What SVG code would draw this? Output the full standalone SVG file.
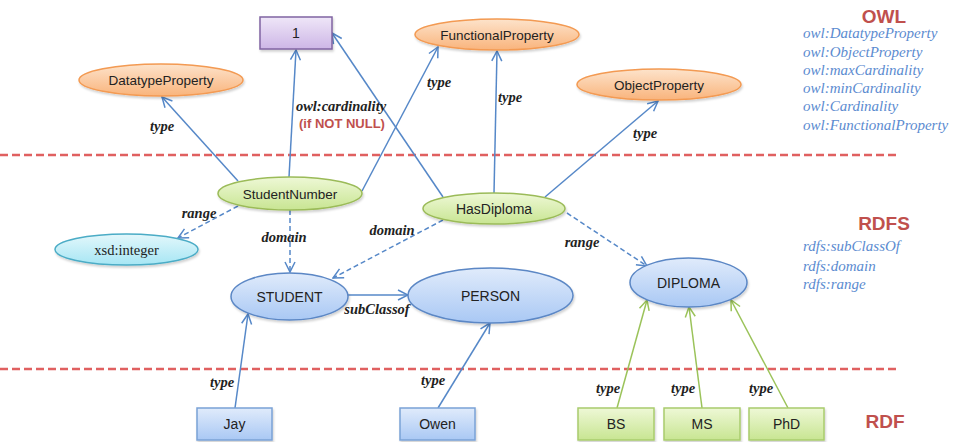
<svg xmlns="http://www.w3.org/2000/svg" width="956" height="442" viewBox="0 0 956 442">
<defs>
<linearGradient id="gOrange" x1="0" y1="0" x2="0" y2="1"><stop offset="0" stop-color="#fde3cb"/><stop offset="1" stop-color="#f9b47c"/></linearGradient>
<linearGradient id="gGreen" x1="0" y1="0" x2="0" y2="1"><stop offset="0" stop-color="#eef8d6"/><stop offset="1" stop-color="#c8e592"/></linearGradient>
<linearGradient id="gBlue" x1="0" y1="0" x2="0" y2="1"><stop offset="0" stop-color="#e0ebfb"/><stop offset="1" stop-color="#a9c8f4"/></linearGradient>
<linearGradient id="gCyan" x1="0" y1="0" x2="0" y2="1"><stop offset="0" stop-color="#e3f7fb"/><stop offset="1" stop-color="#a6e6f4"/></linearGradient>
<linearGradient id="gPurple" x1="0" y1="0" x2="0" y2="1"><stop offset="0" stop-color="#efe6f8"/><stop offset="1" stop-color="#cdb6e6"/></linearGradient>
<filter id="sh" x="-10%" y="-20%" width="125%" height="150%"><feDropShadow dx="1" dy="2" stdDeviation="1.2" flood-color="#000" flood-opacity="0.18"/></filter>
<marker id="aBlue" viewBox="0 0 12 12" refX="11" refY="6" markerWidth="12" markerHeight="12" markerUnits="userSpaceOnUse" orient="auto">
<path d="M1,1 L11,6 L1,11" fill="none" stroke="#5688c8" stroke-width="1.5"/></marker>
<marker id="aGreen" viewBox="0 0 12 12" refX="11" refY="6" markerWidth="12" markerHeight="12" markerUnits="userSpaceOnUse" orient="auto">
<path d="M1,1 L11,6 L1,11" fill="none" stroke="#9bc35a" stroke-width="1.5"/></marker>
</defs>
<style>
.lbl{font-family:"Liberation Sans",Arial,sans-serif;font-size:14px;fill:#222;text-anchor:middle}
.sm{font-size:13.5px}
.ser{font-family:"Liberation Serif","Times New Roman",serif;font-size:14.5px;fill:#222;text-anchor:middle}
.el{font-family:"Liberation Serif","Times New Roman",serif;font-size:14.5px;font-weight:bold;font-style:italic;fill:#222;text-anchor:middle}
.red{font-family:"Liberation Sans",Arial,sans-serif;font-weight:bold;fill:#c0504d}
.lst{font-family:"Liberation Serif","Times New Roman",serif;font-style:italic;font-size:15px;fill:#5b8bd0}
.e{fill:none;stroke:#5688c8;stroke-width:1.5}
.d{stroke-dasharray:5 3}
.eg{fill:none;stroke:#9bc35a;stroke-width:1.5}
.sep{stroke:#e06060;stroke-width:2.5;stroke-dasharray:8 4}
.or{fill:url(#gOrange);stroke:#f39a52;stroke-width:1.5;filter:url(#sh)}
.gr{fill:url(#gGreen);stroke:#9bbb59;stroke-width:1.5;filter:url(#sh)}
.bl{fill:url(#gBlue);stroke:#5b87c5;stroke-width:1.5;filter:url(#sh)}
.cy{fill:url(#gCyan);stroke:#4bacc6;stroke-width:1.5;filter:url(#sh)}
.pu{fill:url(#gPurple);stroke:#8064a2;stroke-width:1.5;filter:url(#sh)}
.bb{fill:url(#gBlue);stroke:#7aa2d6;stroke-width:1.5;filter:url(#sh)}
.gb{fill:url(#gGreen);stroke:#a9cc6c;stroke-width:1.5;filter:url(#sh)}
</style>
<rect width="956" height="442" fill="#fff"/>
<line class="sep" x1="0" y1="155" x2="896" y2="155"/>
<line class="sep" x1="0" y1="369" x2="896" y2="369"/>

<g id="connectors">
<line class="e" x1="238" y1="181" x2="162" y2="97" marker-end="url(#aBlue)"/>
<line class="e" x1="289" y1="177" x2="296" y2="50" marker-end="url(#aBlue)"/>
<line class="e" x1="362" y1="191" x2="438" y2="47" marker-end="url(#aBlue)"/>
<line class="e" x1="443" y1="197" x2="332" y2="33" marker-end="url(#aBlue)"/>
<line class="e" x1="494" y1="193" x2="497" y2="51" marker-end="url(#aBlue)"/>
<line class="e" x1="545" y1="197" x2="658" y2="101" marker-end="url(#aBlue)"/>
<line class="e d" x1="238" y1="206" x2="178" y2="238" marker-end="url(#aBlue)"/>
<line class="e d" x1="290" y1="210" x2="290" y2="272" marker-end="url(#aBlue)"/>
<line class="e d" x1="443" y1="220" x2="333" y2="278" marker-end="url(#aBlue)"/>
<line class="e d" x1="567" y1="213" x2="647" y2="266" marker-end="url(#aBlue)"/>
<line class="e" x1="348" y1="295" x2="408" y2="295" marker-end="url(#aBlue)"/>
<line class="e" x1="235" y1="408" x2="248" y2="314" marker-end="url(#aBlue)"/>
<line class="e" x1="438" y1="408" x2="490" y2="323" marker-end="url(#aBlue)"/>
<line class="eg" x1="617" y1="408" x2="647" y2="300" marker-end="url(#aGreen)"/>
<line class="eg" x1="702" y1="408" x2="689" y2="307" marker-end="url(#aGreen)"/>
<line class="eg" x1="788" y1="408" x2="731" y2="300" marker-end="url(#aGreen)"/>
<text class="el" x="162" y="131">type</text>
<text class="el" x="341" y="111">owl:cardinality</text>
<text class="red" x="342" y="128" font-size="13" text-anchor="middle">(if NOT NULL)</text>
<text class="el" x="439" y="87">type</text>
<text class="el" x="510" y="102">type</text>
<text class="el" x="645" y="138">type</text>
<text class="el" x="199" y="218">range</text>
<text class="el" x="284" y="242">domain</text>
<text class="el" x="392" y="235">domain</text>
<text class="el" x="377" y="314">subClassof</text>
<text class="el" x="582" y="247">range</text>
<text class="el" x="222" y="387">type</text>
<text class="el" x="433" y="385">type</text>
<text class="el" x="608" y="393">type</text>
<text class="el" x="683" y="393">type</text>
<text class="el" x="761" y="393">type</text>
</g>

<g id="n-one"><rect class="pu" x="260" y="17" width="72" height="32"/><text class="lbl" x="296" y="38">1</text></g>
<g id="n-datatypeproperty"><ellipse class="or" cx="161" cy="80" rx="82" ry="16"/><text class="lbl sm" x="161" y="85">DatatypeProperty</text></g>
<g id="n-functionalproperty"><ellipse class="or" cx="497" cy="34.5" rx="82" ry="15.5"/><text class="lbl sm" x="497" y="39.5">FunctionalProperty</text></g>
<g id="n-objectproperty"><ellipse class="or" cx="659" cy="84.5" rx="82" ry="15.5"/><text class="lbl sm" x="659" y="89.5">ObjectProperty</text></g>
<g id="n-studentnumber"><ellipse class="gr" cx="290" cy="193.5" rx="72" ry="16.5"/><text class="lbl sm" x="290" y="198.5">StudentNumber</text></g>
<g id="n-hasdiploma"><ellipse class="gr" cx="494" cy="208.5" rx="71" ry="15.5"/><text class="lbl" x="494" y="213.5">HasDiploma</text></g>
<g id="n-xsdinteger"><ellipse class="cy" cx="126.5" cy="249.5" rx="71.5" ry="15.5"/><text class="ser" x="126.5" y="254.5">xsd:integer</text></g>
<g id="n-student"><ellipse class="bl" cx="289.5" cy="296.5" rx="58.5" ry="23.5"/><text class="lbl" x="289.5" y="301.5">STUDENT</text></g>
<g id="n-person"><ellipse class="bl" cx="490.5" cy="295.5" rx="82.5" ry="27.5"/><text class="lbl" x="490.5" y="300.5">PERSON</text></g>
<g id="n-diploma"><ellipse class="bl" cx="688.5" cy="282.5" rx="58.5" ry="24.5"/><text class="lbl" x="688.5" y="287.5">DIPLOMA</text></g>
<g id="n-jay"><rect class="bb" x="197" y="408" width="75" height="32"/><text class="lbl" x="234.5" y="429">Jay</text></g>
<g id="n-owen"><rect class="bb" x="400" y="408" width="75" height="32"/><text class="lbl" x="437.5" y="429">Owen</text></g>
<g id="n-bs"><rect class="gb" x="578" y="408" width="76" height="32"/><text class="lbl" x="616" y="429">BS</text></g>
<g id="n-ms"><rect class="gb" x="664" y="408" width="76" height="32"/><text class="lbl" x="702" y="429">MS</text></g>
<g id="n-phd"><rect class="gb" x="749" y="408" width="75" height="32"/><text class="lbl" x="786.5" y="429">PhD</text></g>

<g id="legend">
<text class="red" x="884" y="23" font-size="19" text-anchor="middle">OWL</text>
<text class="lst" x="803" y="38">owl:DatatypeProperty</text>
<text class="lst" x="803" y="57">owl:ObjectProperty</text>
<text class="lst" x="803" y="75">owl:maxCardinality</text>
<text class="lst" x="803" y="93">owl:minCardinality</text>
<text class="lst" x="803" y="111">owl:Cardinality</text>
<text class="lst" x="803" y="130">owl:FunctionalProperty</text>
<text class="red" x="884" y="230" font-size="19" text-anchor="middle">RDFS</text>
<text class="lst" x="803" y="251">rdfs:subClassOf</text>
<text class="lst" x="803" y="271">rdfs:domain</text>
<text class="lst" x="803" y="289">rdfs:range</text>
<text class="red" x="885" y="428" font-size="19" text-anchor="middle">RDF</text>
</g>
</svg>
